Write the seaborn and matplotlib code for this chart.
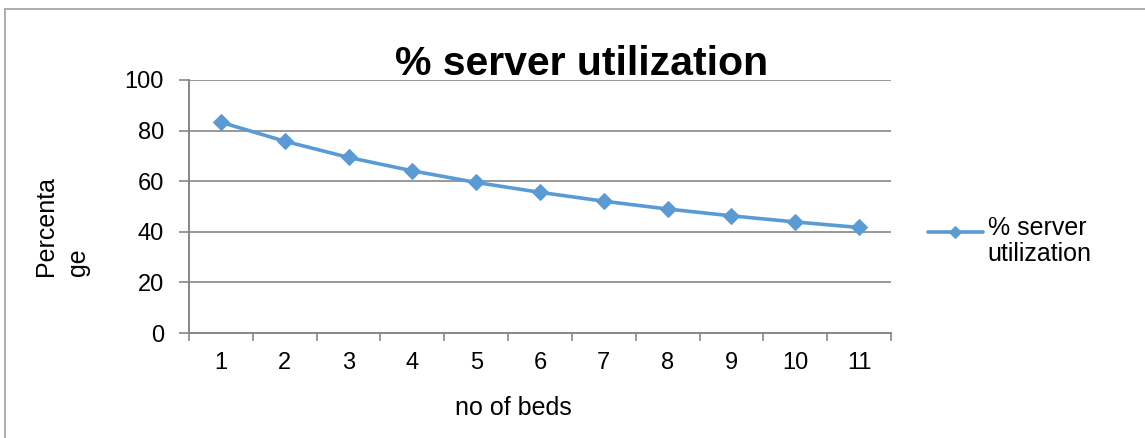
import pandas as pd
import seaborn as sns
import matplotlib.pyplot as plt
from matplotlib.patches import Rectangle

beds = [1, 2, 3, 4, 5, 6, 7, 8, 9, 10, 11]
utilization = [83.3, 75.8, 69.4, 64.1, 59.5, 55.6, 52.1, 49.0, 46.3, 43.9, 41.7]
series_name = "% server utilization"

df = pd.DataFrame({"beds": beds, "util": utilization})

sns.set_theme(style="white")
plt.rcParams['font.family'] = ['Liberation Sans', 'DejaVu Sans']
plt.rcParams['text.color'] = 'black'

W, H = 1145, 438
fig = plt.figure(figsize=(W / 100, H / 100), dpi=100)
ax = fig.add_axes([189 / W, 105 / H, 702 / W, 253 / H])

blue = "#5B9BD5"
grey = "#878787"
sns.lineplot(data=df, x="beds", y="util", ax=ax, color=blue, lw=2.6,
             marker="D", markersize=8, markeredgecolor=blue, label=series_name)

ax.set_ylim(0, 100)
ax.set_yticks([0, 20, 40, 60, 80, 100])
ax.set_xlim(0.5, len(beds) + 0.5)
ax.set_xticks(beds)
ax.set_xticks([b - 0.5 for b in beds] + [beds[-1] + 0.5], minor=True)
ax.tick_params(axis="x", which="major", length=0, pad=14, labelsize=17, labelcolor="black")
ax.tick_params(axis="x", which="minor", length=6, width=1.2, color=grey, direction="out", bottom=True)
ax.tick_params(axis="y", length=7, width=1.2, color=grey, direction="out", left=True,
               labelsize=17, pad=11, labelcolor="black")
ax.yaxis.grid(True, color=grey, lw=1.2)
ax.set_axisbelow(True)
for s in ["top", "right"]:
    ax.spines[s].set_visible(False)
for s in ["left", "bottom"]:
    ax.spines[s].set_color(grey)
    ax.spines[s].set_linewidth(1.4)

ax.set_xlabel("")
ax.set_ylabel("")
fig.text(513 / W, 1 - 415 / H, "no of beds", ha="center", va="baseline", fontsize=18)
fig.text(62 / W, 1 - 276 / H, "Percenta\nge", rotation=90, ha="center", va="bottom",
         multialignment="left", fontsize=18, linespacing=1.45)
fig.text(582 / W, 1 - 75 / H, series_name, ha="center", va="baseline",
         fontsize=29.5, fontweight="bold")

# tall handle box so the line sits level with the first text line, as in Excel
ax.legend(loc="center left", bbox_to_anchor=(1.02, 0.355), frameon=False, fontsize=18,
          handlelength=2.2, handleheight=3.2, handletextpad=0.2, labelspacing=0.2,
          markerscale=0.8)
leg = ax.get_legend()
leg.get_texts()[0].set_text("% server\nutilization")
leg.get_texts()[0].set_linespacing(1.1)
leg.get_texts()[0].set_color("black")

fig.patches.append(Rectangle((5 / W, -0.1), 1.2, 1 - 9 / H + 0.1, transform=fig.transFigure,
                             fill=False, edgecolor="#A0A0A0", lw=1.2, figure=fig))

fig.savefig("out.png", dpi=100, facecolor="white")
